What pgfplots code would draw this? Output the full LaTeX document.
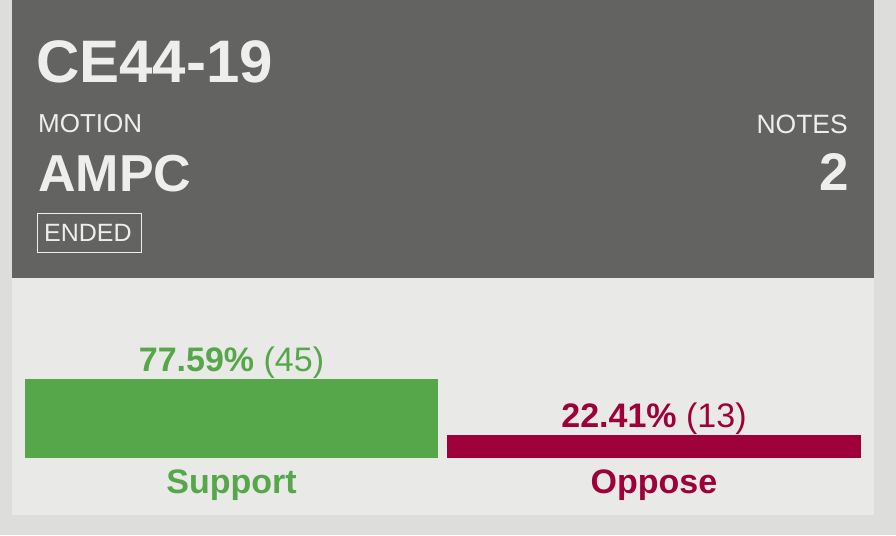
\documentclass[border=0pt]{standalone}
\usepackage{pgfplots}
\pgfplotsset{compat=1.18}
\usepackage{fontspec}
\setmainfont{Liberation Sans}
\definecolor{outerbg}{HTML}{DDDEDC}
\definecolor{headbg}{HTML}{636462}
\definecolor{panelbg}{HTML}{E9EAE8}
\definecolor{headtxt}{HTML}{EEEEEC}
\definecolor{supgreen}{HTML}{55A74A}
\definecolor{oppred}{HTML}{9E0039}
\begin{document}
\begin{tikzpicture}[x=1pt,y=1pt]
\fill[outerbg] (0,0) rectangle (896,535);
\useasboundingbox (0,0) rectangle (896,535);
\fill[panelbg] (12,20) rectangle (874,257);
\fill[headbg] (12,257) rectangle (874,535);
% header texts
\node[anchor=base west, inner sep=0pt, text=headtxt, font=\fontsize{60}{62}\selectfont\bfseries] at (36,452) {CE44-19};
\node[anchor=base west, inner sep=0pt, text=headtxt, font=\fontsize{26}{28}\selectfont] at (38,402) {MOTION};
\node[anchor=base west, inner sep=0pt, text=headtxt, font=\fontsize{52}{54}\selectfont\bfseries] at (38,343) {AMPC};
\draw[headtxt, line width=1.2pt] (37.5,282.5) rectangle (141.5,321.5);
\node[anchor=base west, inner sep=0pt, text=headtxt, font=\fontsize{25}{27}\selectfont] at (44,293) {ENDED};
\node[anchor=base east, inner sep=0pt, text=headtxt, font=\fontsize{26.5}{28}\selectfont] at (848,401) {NOTES};
\node[anchor=base east, inner sep=0pt, text=headtxt, font=\fontsize{53}{55}\selectfont\bfseries] at (849,344) {2};
\begin{axis}[
  at={(0pt,77pt)}, anchor=south west,
  x=1pt, y=1.02pt,
  xmin=0, xmax=896, ymin=0, ymax=100,
  axis lines=none, ticks=none, clip=false,
  scale only axis,
]
\addplot[ybar, bar width=413, bar shift=0pt, fill=supgreen, draw=none,
  nodes near coords={\textbf{77.59\%} (45)},
  every node near coord/.style={anchor=base, yshift=7pt, inner sep=0pt, text=supgreen, font=\fontsize{34}{36}\selectfont}]
  coordinates {(231.5,77.59)};
\addplot[ybar, bar width=414, bar shift=0pt, fill=oppred, draw=none,
  nodes near coords={\textbf{22.41\%} (13)},
  every node near coord/.style={anchor=base, yshift=8pt, inner sep=0pt, text=oppred, font=\fontsize{34}{36}\selectfont}]
  coordinates {(654,22.41)};
\node[anchor=base, inner sep=0pt, text=supgreen, font=\fontsize{34}{36}\selectfont\bfseries] at (axis cs:231.5,0) [yshift=-35pt] {Support};
\node[anchor=base, inner sep=0pt, text=oppred, font=\fontsize{34}{36}\selectfont\bfseries] at (axis cs:654,0) [yshift=-35pt] {Oppose};
\end{axis}
\end{tikzpicture}
\end{document}
